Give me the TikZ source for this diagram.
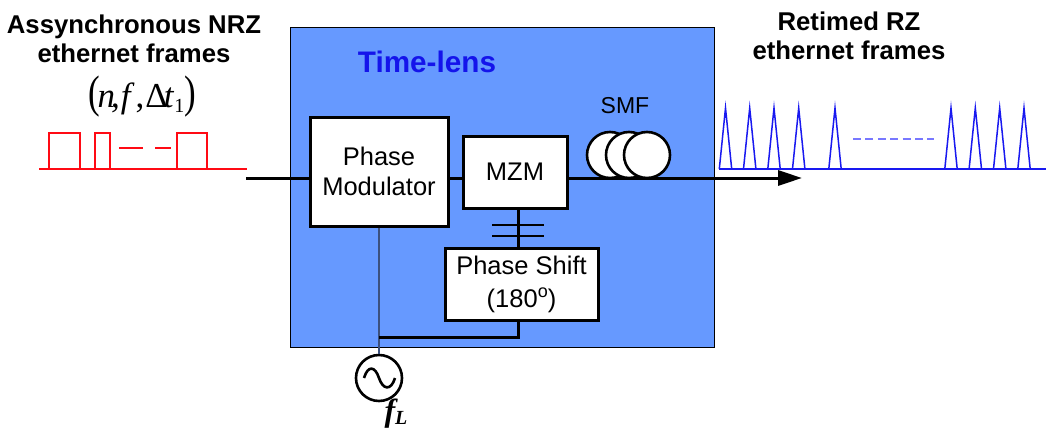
\documentclass[tikz,border=0pt]{standalone}
\usepackage{fontspec}
\setmainfont{Liberation Sans}
\newfontfamily\timesfont{Liberation Serif}
\usepackage{tikz}
\usetikzlibrary{arrows.meta,calc}

\definecolor{lensblue}{RGB}{102,153,255}
\definecolor{titleblue}{RGB}{20,20,235}
\definecolor{pulsered}{RGB}{255,10,20}
\definecolor{pulseblue}{RGB}{25,25,240}
\definecolor{dashblue}{RGB}{120,120,255}
\definecolor{rfline}{RGB}{60,80,125}

\tikzset{
  block/.style={draw=black,line width=3pt,fill=white,inner sep=0pt,align=center,
    font=\fontsize{25.5}{30.5}\selectfont},
  coil/.style={circle,draw=black,line width=2.6pt,fill=white,inner sep=0pt,minimum size=46pt},
  heading/.style={align=center,font=\fontsize{25.7}{29.5}\selectfont\bfseries},
  fibre/.style={line width=3pt,black},
  rfwire/.style={line width=2pt,rfline},
  nrz/.style={line width=2pt,pulsered},
  rz/.style={line width=1.5pt,pulseblue}
}

\begin{document}
\begin{tikzpicture}[x=1pt,y=-1pt]
    \useasboundingbox (0,0) rectangle (1046,428);

    \node[draw=black,line width=0.9pt,fill=lensblue,inner sep=0pt,minimum width=424pt,minimum height=320pt] (lens) at (502,187) {};
    \node[text=titleblue,font=\fontsize{29.7}{34}\selectfont\bfseries] (lenstitle) at (427,62) {Time-lens};

    \node[heading] (nrztitle) at (134,39) {Assynchronous NRZ\\ethernet frames};
    \node[heading] (rztitle) at (849,36) {Retimed RZ\\ethernet frames};

    \node[font=\timesfont\fontsize{35}{40}\selectfont] (params) at (142,97)
      {\scalebox{1}[1.3]{(}\kern-2pt\textit{n}\kern-4pt,\kern1pt\textit{f}\kern1pt,\kern1pt Δ\kern-4pt\textit{t}\raisebox{-5pt}{\fontsize{20}{20}\selectfont 1}\kern0pt\scalebox{1}[1.3]{)}};

    % blocks
    \node[block,minimum width=138pt,minimum height=109pt] (pm) at (379,171.5) {Phase\\Modulator};
    \node[block,minimum width=104pt,minimum height=72pt] (mzm) at (515,172) {MZM};
    \node[block,minimum width=153pt,minimum height=72pt,font=\fontsize{25.5}{33}\selectfont] (ps) at (521.5,284) {Phase Shift\\(180\raisebox{10pt}{\fontsize{18}{18}\selectfont o})};
    \node[coil] (smfa) at (610,155) {};
    \node[coil] (smfb) at (629,155) {};
    \node[coil] (smfc) at (647,155) {};
    \node[font=\fontsize{23}{28}\selectfont] (smf) at (625,106) {SMF};

    % rf source
    \node[circle,draw=black,line width=2.6pt,inner sep=0pt,minimum size=46pt] (src) at (379,378) {};
    \draw[line width=2.6pt] (364,378) .. controls (368,365) and (375,366) .. (379,378) .. controls (383,390) and (391,391) .. (395,378);
    \node[font=\timesfont\bfseries\itshape\fontsize{32}{36}\selectfont,inner sep=0pt] (fl) at (396,414) {f\kern0pt\raisebox{-3pt}{\fontsize{20}{20}\selectfont L}};

    % fibre path
    \coordinate (in) at (246,178);
    \coordinate (pmr) at (448,178);
    \coordinate (mzml) at (463,178);
    \coordinate (mzmr) at (567,178);
    \coordinate (tip) at (802,178);
    \draw[fibre] (in) -- (310,178);
    \draw[fibre] (pmr) -- (mzml);
    \draw[fibre,-{Triangle[length=24pt,width=15pt]}] (mzmr) -- (tip);

    % rf path
    \coordinate (mzmout) at (518,208);
    \coordinate (psin) at (518,248);
    \coordinate (psout) at (518,320);
    \coordinate (corner) at (518,337);
    \coordinate (tap) at (379,337);
    \draw[rfwire] (pm) -- (src);
    \draw[fibre] (mzmout) -- (psin);
    \draw[fibre] (psout) -- (corner) -- (tap);
    \draw[line width=1.2pt] (492,225) -- (544,225);
    \draw[line width=1.2pt] (492,236) -- (544,236);

    % nrz frames
    \draw[nrz] (39,169) -- (247,169);
    \draw[nrz] (49,169) -- (49,132.5) -- (79.5,132.5) -- (79.5,169);
    \draw[nrz] (94.5,169) -- (94.5,132.5) -- (110,132.5) -- (110,169);
    \draw[nrz] (177,169) -- (177,132.5) -- (207,132.5) -- (207,169);
    \draw[nrz] (119,147.5) -- (143,147.5);
    \draw[nrz] (155,147.5) -- (171,147.5);

    % rz frames
    \draw[rz] (719,169) -- (1046,169);
    \draw[rz] (719.3,169) -- (725.5,108) -- (731.7,169);
    \draw[rz] (743.5,169) -- (749.7,108) -- (755.9,169);
    \draw[rz] (767.8,169) -- (774,108) -- (780.2,169);
    \draw[rz] (792.5,169) -- (798.7,108) -- (804.9,169);
    \draw[rz] (828.8,169) -- (835,108) -- (841.2,169);
    \draw[rz] (944.8,169) -- (951,108) -- (957.2,169);
    \draw[rz] (969.1,169) -- (975.3,108) -- (981.5,169);
    \draw[rz] (993.5,169) -- (999.7,108) -- (1005.9,169);
    \draw[rz] (1017.8,169) -- (1024,108) -- (1030.2,169);
    \draw[line width=1.8pt,dashblue,dash pattern=on 8pt off 4.4pt] (853,138.7) -- (934,138.7);
\end{tikzpicture}
\end{document}
